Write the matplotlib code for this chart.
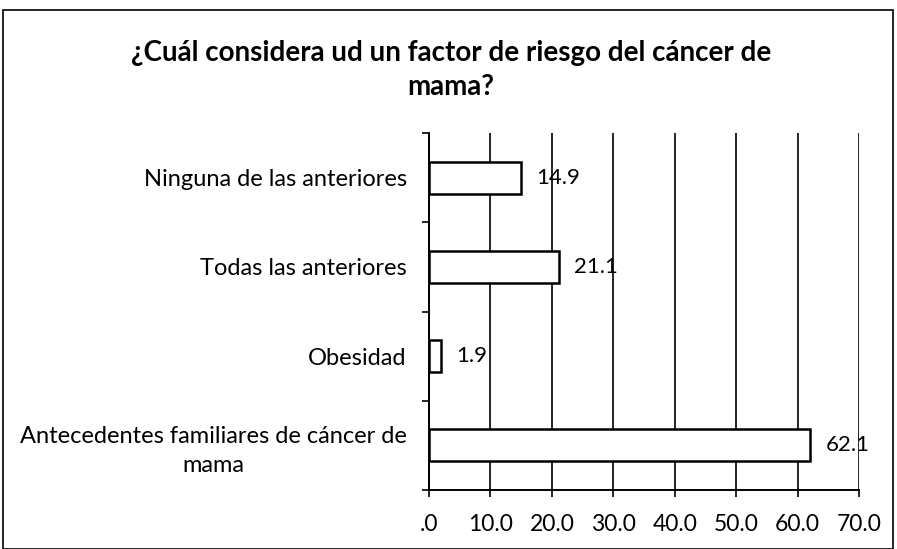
import numpy as np
import matplotlib.pyplot as plt
from matplotlib.patches import Rectangle

# ------------------------------------------------------------
# Data
# ------------------------------------------------------------
categories = ['Antecedentes familiares de cáncer de\nmama', 'Obesidad',
              'Todas las anteriores', 'Ninguna de las anteriores']
values = [62.1, 1.9, 21.1, 14.9]
x_ticks = [0, 10, 20, 30, 40, 50, 60, 70]
x_labels = ['.0', '10.0', '20.0', '30.0', '40.0', '50.0', '60.0', '70.0']

plt.rcParams['font.family'] = ['Lato', 'DejaVu Sans']

fig = plt.figure(figsize=(8.97, 5.49), dpi=100)
ax = fig.add_axes([429 / 897, 1 - 490 / 549, 430 / 897, 357 / 549])

# outer chart border
fig.add_artist(Rectangle((3 / 897, 0.0), 890 / 897, 1 - 10 / 549,
                         transform=fig.transFigure, fill=False,
                         edgecolor='black', linewidth=1.2))

# ------------------------------------------------------------
# Bars and value labels
# ------------------------------------------------------------
pos = np.arange(len(categories))
ax.barh(pos, values, height=0.36, color='white', edgecolor='black',
        linewidth=1.8, zorder=3)

for p, v in zip(pos, values):
    ax.text(v + 2.5, p, f'{v:.1f}', va='center', ha='left', fontsize=16,
            zorder=4)

# ------------------------------------------------------------
# Axes styling
# ------------------------------------------------------------
ax.set_xlim(0, 70)
ax.set_ylim(-0.5, len(categories) - 0.5)
ax.set_xticks(x_ticks)
ax.set_xticklabels(x_labels, fontsize=16.5)
ax.set_yticks(pos)
ax.set_yticklabels(categories, fontsize=17, ha='right', linespacing=1.45)
for lbl in ax.get_yticklabels():
    lbl.set_multialignment('center')
ax.tick_params(axis='y', length=0, pad=16)
ax.set_yticks(np.arange(-0.5, len(categories)), minor=True)
ax.tick_params(axis='y', which='minor', length=5, width=1.2, direction='out')
ax.tick_params(axis='x', length=5, width=1.2, direction='out', pad=12)

ax.grid(axis='x', color='black', linewidth=1.2, zorder=0)
ax.set_axisbelow(True)
for side in ['top', 'right']:
    ax.spines[side].set_visible(False)
ax.spines['left'].set_linewidth(1.4)
ax.spines['bottom'].set_linewidth(1.4)

fig.text(451 / 897, 1 - 70 / 549,
         '¿Cuál considera ud un factor de riesgo del cáncer de\nmama?',
         ha='center', va='center', fontsize=20, fontweight='bold',
         linespacing=1.35)

plt.savefig('out.png', dpi=100)
